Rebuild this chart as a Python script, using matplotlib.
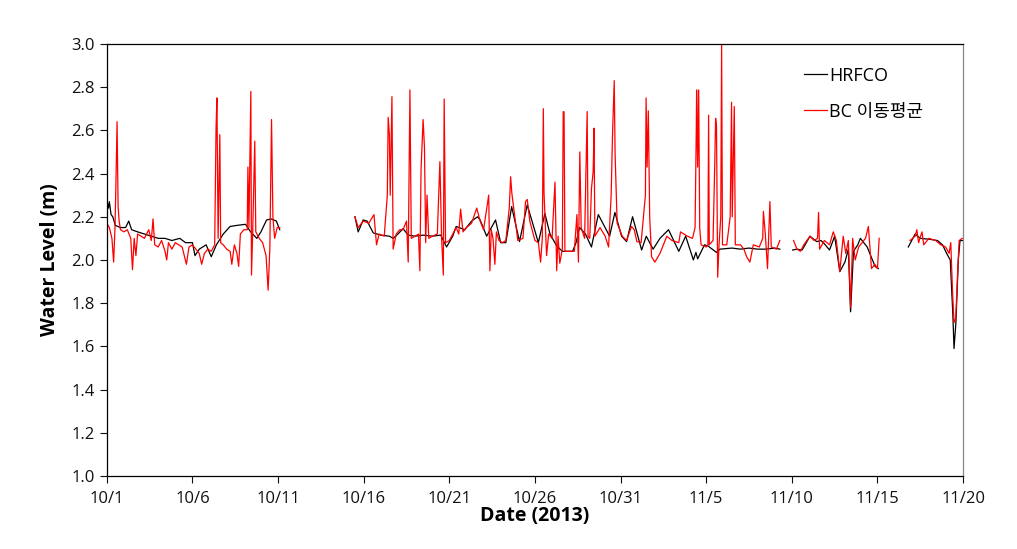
import numpy as np
import pandas as pd
import matplotlib
matplotlib.use("Agg")
import matplotlib.pyplot as plt

plt.rcParams["font.family"] = ["Open Sans", "Noto Sans CJK KR", "DejaVu Sans"]

# Start date of the record
start = pd.Timestamp("2013-10-01")

# -----------------------------
# HRFCO (black), day offset from 10/1 and water level
# -----------------------------
hrfco_day_1 = [0.0, 0.1, 0.15, 0.25, 0.35, 0.5, 0.8, 1.1, 1.28, 1.45, 1.8, 2.2, 2.6, 3.0,
               3.4, 3.8, 4.26, 4.6, 5.0, 5.15, 5.4, 5.8, 6.1, 6.4, 6.8, 7.2, 7.6, 8.1, 8.4,
               8.76, 9.0, 9.33, 9.6, 9.9, 10.1]
hrfco_lvl_1 = [2.28, 2.24, 2.27, 2.21, 2.20, 2.16, 2.15, 2.15, 2.18, 2.14, 2.13, 2.12, 2.11, 2.10,
               2.10, 2.09, 2.10, 2.08, 2.08, 2.02, 2.05, 2.07, 2.015, 2.07, 2.12, 2.155, 2.16, 2.165, 2.13,
               2.10, 2.13, 2.185, 2.19, 2.18, 2.14]

hrfco_day_2 = [14.49, 14.68, 14.97, 15.2, 15.56, 16.0, 16.5, 16.72, 17.0, 17.3, 17.6, 18.0, 18.5,
               19.0, 19.5, 19.84, 20.2, 20.4, 20.9, 21.3, 21.65, 21.8, 22.18, 22.7, 23.0, 23.3,
               23.64, 24.1, 24.55, 25.2, 25.58, 25.88, 26.27, 26.6, 27.2, 27.4, 27.6, 27.95, 28.3,
               28.7, 29.36, 29.67, 30.06, 30.35, 30.7, 31.23, 31.5, 31.9, 32.3, 32.8, 33.4, 33.8,
               34.25, 34.4, 34.5, 34.9, 35.1, 35.6, 35.8, 36.5, 37.0, 37.5, 38.0, 38.5, 39.0, 39.3]
hrfco_lvl_2 = [2.20, 2.13, 2.185, 2.18, 2.125, 2.115, 2.11, 2.10, 2.12, 2.145, 2.115, 2.11, 2.115,
               2.11, 2.115, 2.06, 2.11, 2.155, 2.14, 2.18, 2.20, 2.185, 2.11, 2.185, 2.08, 2.08,
               2.247, 2.085, 2.255, 2.08, 2.215, 2.12, 2.065, 2.04, 2.04, 2.08, 2.15, 2.12, 2.06,
               2.21, 2.11, 2.22, 2.11, 2.085, 2.20, 2.046, 2.11, 2.05, 2.10, 2.14, 2.04, 2.11,
               2.00, 2.035, 2.005, 2.07, 2.065, 2.035, 2.05, 2.055, 2.05, 2.055, 2.05, 2.05, 2.055, 2.05]

hrfco_day_3 = [40.05, 40.3, 40.6, 41.06, 41.45, 41.7, 41.9, 42.2, 42.5, 42.8, 43.1, 43.3, 43.43,
               43.6, 43.85, 44.0, 44.4, 44.86, 45.05]
hrfco_lvl_3 = [2.046, 2.05, 2.046, 2.11, 2.085, 2.09, 2.075, 2.046, 2.11, 1.946, 1.99, 2.05, 1.76,
               2.04, 2.07, 2.10, 2.06, 1.97, 1.96]

hrfco_day_4 = [46.8, 47.2, 47.5, 48.1, 48.5, 48.8, 49.04, 49.25, 49.4, 49.47, 49.58, 49.72, 49.82, 50.0]
hrfco_lvl_4 = [2.06, 2.12, 2.10, 2.095, 2.09, 2.07, 2.03, 2.00, 1.75, 1.59, 1.71, 2.00, 2.09, 2.09]

# -----------------------------
# BC moving average (red)
# -----------------------------
bc_day_1 = [0.0, 0.15, 0.3, 0.4, 0.48, 0.55, 0.6, 0.66, 0.72, 0.8, 1.0, 1.2, 1.4, 1.5, 1.6, 1.7,
            1.8, 2.0, 2.2, 2.45, 2.6, 2.7, 2.8, 3.0, 3.2, 3.4, 3.5, 3.6, 3.8, 4.0, 4.2, 4.4, 4.65,
            4.8, 5.0, 5.2, 5.4, 5.54, 5.7, 5.9, 6.1, 6.3, 6.38, 6.43, 6.5, 6.6, 6.65, 6.8, 7.0,
            7.2, 7.3, 7.45, 7.6, 7.7, 7.8, 8.0, 8.2, 8.24, 8.3, 8.41, 8.45, 8.52, 8.64, 8.7, 8.9,
            9.1, 9.3, 9.42, 9.52, 9.62, 9.7, 9.8, 9.95, 10.1]
bc_lvl_1 = [2.17, 2.15, 2.10, 1.99, 2.15, 2.42, 2.64, 2.25, 2.18, 2.14, 2.13, 2.14, 2.10, 1.955, 2.10, 2.02,
            2.12, 2.11, 2.10, 2.14, 2.09, 2.19, 2.07, 2.06, 2.09, 2.04, 2.00, 2.08, 2.05, 2.08, 2.07, 2.06, 1.98,
            2.06, 2.07, 2.05, 2.03, 1.98, 2.03, 2.05, 2.04, 2.07, 2.61, 2.75, 2.10, 2.58, 2.08, 2.07, 2.05,
            2.04, 1.98, 2.07, 2.03, 1.97, 2.12, 2.14, 2.14, 2.43, 2.15, 2.78, 1.93, 2.13, 2.55, 2.13, 2.10,
            2.08, 2.02, 1.86, 2.05, 2.65, 2.20, 2.10, 2.15, 2.15]

bc_day_2 = [14.49, 14.68, 14.97, 15.3, 15.6, 15.75, 15.9, 16.2, 16.38, 16.43, 16.5, 16.55, 16.65,
            16.72, 16.9, 17.1, 17.3, 17.5, 17.6, 17.7, 17.78, 18.0, 18.2, 18.28, 18.35, 18.47,
            18.55, 18.62, 18.7, 18.8, 19.0, 19.3, 19.45, 19.55, 19.65, 19.7, 19.78, 20.0, 20.2,
            20.4, 20.55, 20.66, 20.8, 21.0, 21.3, 21.6, 21.8, 22.0, 22.3, 22.37, 22.45, 22.55,
            22.66, 22.75, 22.9, 23.1, 23.3, 23.5, 23.58, 23.65, 23.75, 24.0, 24.3, 24.45, 24.55,
            24.7, 25.0, 25.2, 25.33, 25.43, 25.49, 25.53, 25.68, 25.8, 26.0, 26.17, 26.27, 26.35,
            26.45, 26.6, 26.65, 26.7, 26.75, 27.0, 27.3, 27.45, 27.54, 27.62, 27.7, 27.9, 28.05,
            28.1, 28.2, 28.3, 28.4, 28.45, 28.5, 28.8, 29.1, 29.3, 29.45, 29.53, 29.63, 29.68,
            29.8, 30.1, 30.35, 30.64, 30.8, 30.95, 31.2, 31.45, 31.49, 31.55, 31.62, 31.7, 31.81,
            32.0, 32.3, 32.7, 33.0, 33.4, 33.5, 33.9, 34.2, 34.35, 34.42, 34.44, 34.5, 34.56,
            34.62, 34.7, 35.0, 35.1, 35.14, 35.18, 35.4, 35.5, 35.55, 35.6, 35.67, 35.75, 35.85,
            35.9, 35.95, 36.2, 36.4, 36.48, 36.52, 36.64, 36.7, 37.0, 37.2, 37.36, 37.55, 37.75,
            38.1, 38.3, 38.34, 38.45, 38.58, 38.72, 38.8, 39.1, 39.3]
bc_lvl_2 = [2.20, 2.15, 2.18, 2.17, 2.21, 2.07, 2.12, 2.11, 2.30, 2.66, 2.58, 2.30, 2.756,
            2.05, 2.12, 2.14, 2.14, 2.18, 1.99, 2.787, 2.10, 2.11, 2.12, 1.95, 2.42, 2.65,
            2.52, 2.08, 2.30, 2.10, 2.11, 2.12, 2.455, 2.10, 1.93, 2.745, 2.08, 2.09, 2.12,
            2.15, 2.12, 2.235, 2.13, 2.15, 2.17, 2.24, 2.18, 2.14, 2.30, 1.95, 2.14, 2.10,
            1.98, 2.13, 2.09, 2.08, 2.09, 2.24, 2.385, 2.31, 2.245, 2.09, 2.10, 2.27, 2.28,
            2.18, 2.09, 2.08, 1.99, 2.10, 2.70, 2.31, 2.02, 2.12, 2.10, 2.36, 1.95, 2.11,
            1.985, 2.05, 2.686, 2.686, 2.04, 2.04, 2.04, 2.21, 1.99, 2.50, 2.15, 2.10, 2.687,
            2.11, 2.10, 2.33, 2.41, 2.61, 2.11, 2.15, 2.11, 2.06, 2.30, 2.58, 2.83, 2.49,
            2.17, 2.11, 2.09, 2.155, 2.14, 2.085, 2.08, 2.30, 2.75, 2.43, 2.69, 2.20, 2.015,
            1.99, 2.03, 2.11, 2.09, 2.08, 2.13, 2.11, 2.10, 2.15, 2.60, 2.787, 2.43, 2.787,
            2.15, 2.07, 2.06, 2.07, 2.67, 2.07, 2.09, 2.45, 2.656, 2.62, 1.92, 2.07, 2.20,
            3.0, 2.07, 2.07, 2.20, 2.73, 2.20, 2.71, 2.07, 2.07, 2.05, 2.015, 1.99, 2.07,
            2.06, 2.10, 2.225, 2.12, 1.96, 2.27, 2.06, 2.05, 2.09]

bc_day_3 = [40.1, 40.3, 40.5, 40.7, 41.06, 41.3, 41.5, 41.56, 41.62, 41.9, 42.2, 42.42, 42.6,
            42.8, 43.0, 43.15, 43.3, 43.43, 43.55, 43.7, 43.9, 44.1, 44.3, 44.47, 44.65, 44.85,
            45.0, 45.1]
bc_lvl_3 = [2.09, 2.05, 2.04, 2.07, 2.11, 2.09, 2.10, 2.22, 2.05, 2.09, 2.07, 2.13, 2.09,
            1.946, 2.11, 2.03, 2.09, 1.78, 2.10, 2.00, 2.06, 2.08, 2.10, 2.155, 1.96, 1.98,
            1.96, 2.10]

bc_day_4 = [46.9, 47.2, 47.3, 47.4, 47.6, 47.7, 48.0, 48.4, 48.7, 48.98, 49.18, 49.28, 49.38,
            49.47, 49.57, 49.67, 49.77, 49.95]
bc_lvl_4 = [2.09, 2.11, 2.14, 2.08, 2.13, 2.07, 2.10, 2.09, 2.07, 2.06, 2.03, 2.08, 1.86,
            1.71, 1.73, 1.92, 2.09, 2.10]


def join_segments(days_list, lvls_list):
    # put NaN between segments so the line breaks at the data gaps
    days, lvls = [], []
    for d, v in zip(days_list, lvls_list):
        days += d + [d[-1] + 0.01]
        lvls += v + [np.nan]
    t = start + pd.to_timedelta(np.array(days), unit="D")
    return t, np.array(lvls)


t_hrfco, v_hrfco = join_segments([hrfco_day_1, hrfco_day_2, hrfco_day_3, hrfco_day_4],
                                 [hrfco_lvl_1, hrfco_lvl_2, hrfco_lvl_3, hrfco_lvl_4])
t_bc, v_bc = join_segments([bc_day_1, bc_day_2, bc_day_3, bc_day_4],
                           [bc_lvl_1, bc_lvl_2, bc_lvl_3, bc_lvl_4])

fig = plt.figure(figsize=(10.17, 5.49), dpi=100)
ax = fig.add_axes([0.105, 0.133, 0.842, 0.787])

ax.plot(t_hrfco, v_hrfco, color="black", lw=0.9, label="HRFCO")
ax.plot(t_bc, v_bc, color="#ff0000", lw=0.9, label="BC 이동평균")

# x axis: every 5 days from 10/1 to 11/20
ticks = pd.date_range(start, periods=11, freq="5D")
ax.set_xlim(ticks[0], ticks[-1])
ax.set_xticks(ticks)
ax.set_xticklabels([f"{d.month}/{d.day}" for d in ticks])

ax.set_ylim(1.0, 3.0)
ax.set_yticks(np.arange(1.0, 3.01, 0.2))
ax.set_yticklabels([f"{v:.1f}" for v in np.arange(1.0, 3.01, 0.2)])

ax.tick_params(direction="out", length=5, width=0.8, labelsize=12, colors="#111111")
ax.tick_params(axis="x", pad=6)
for s in ax.spines.values():
    s.set_linewidth(0.9)
ax.spines["right"].set_color("#888888")

ax.set_xlabel("Date (2013)", fontsize=14, fontweight="bold", labelpad=-1)
ax.set_ylabel("Water Level (m)", fontsize=14, fontweight="bold", labelpad=8)

ax.legend(loc="upper left", bbox_to_anchor=(0.795, 0.985), frameon=False, fontsize=13,
          handlelength=1.3, handletextpad=0.1, labelspacing=1.0)

fig.savefig("out.png", dpi=100)
